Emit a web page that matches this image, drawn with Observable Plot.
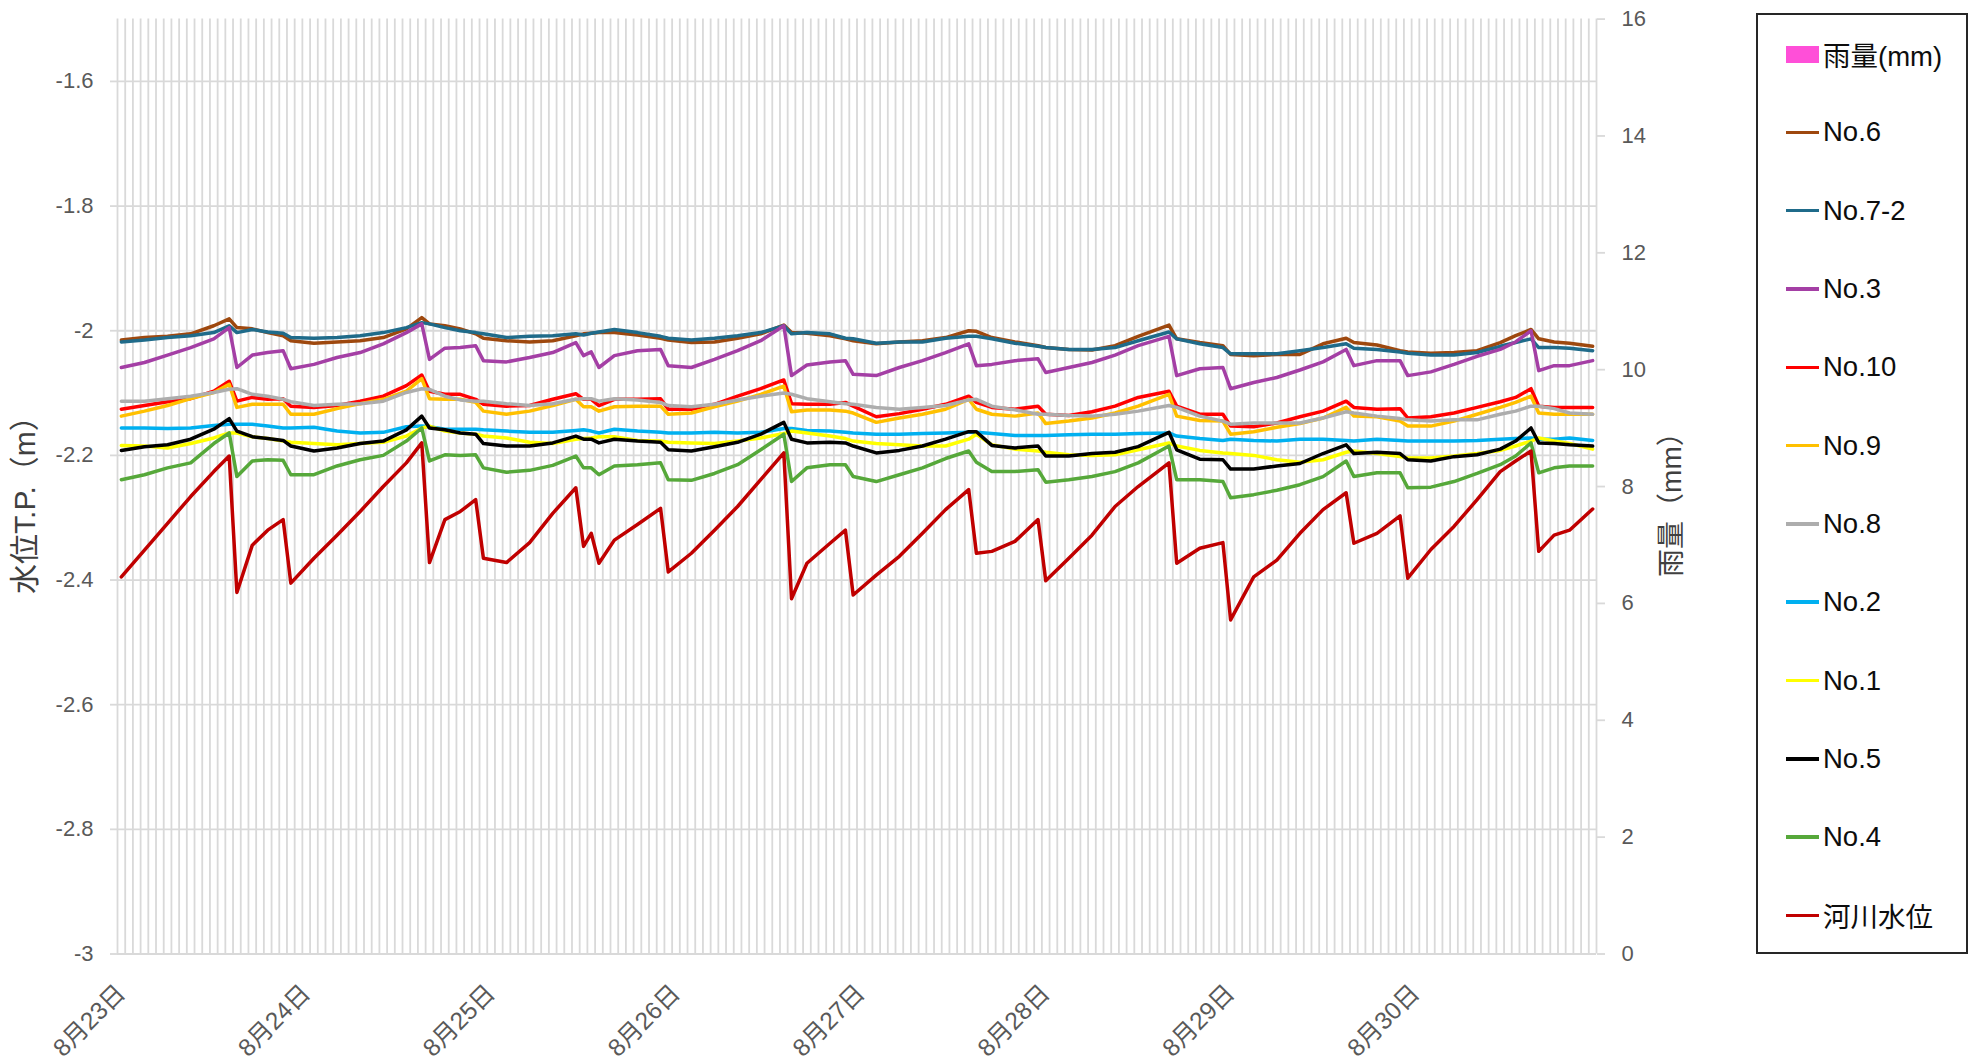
<!DOCTYPE html>
<html><head><meta charset="utf-8">
<script src="https://cdn.jsdelivr.net/npm/d3@7"></script>
<script src="https://cdn.jsdelivr.net/npm/@observablehq/plot@0.6"></script>
<style>
body{margin:0;background:#fff;}
#wrap{position:relative;width:1974px;height:1064px;font-family:"Liberation Sans","Noto Sans CJK JP",sans-serif;}
#legend{position:absolute;left:1756px;top:13px;width:212px;height:941px;border:2px solid #262626;box-sizing:border-box;}
.row{height:78.3px;display:flex;align-items:center;font-size:27.5px;color:#0d0d0d;white-space:nowrap;}
.sw{margin-left:28px;width:33px;height:3.5px;margin-right:4px;flex:none;}
.sw.box{height:17px;}
</style></head>
<body><div id="wrap"><div id="legend"></div></div>
<script>
// hours since 8/23 00:00
const hours = [0,3,6,9,12,14, 15,17,19,21, 22,25,28,31,34,37,39, 40,42,44,46, 47,50,53,56,59, 60,61,62,64,67,70, 71,74,77,80,83,86, 87,89,92,94, 95,98,101,104,107,110, 111,113,116,119, 120,123,126,129,132,136, 137,140,143, 144,147,150,153,156,159, 160,163,166, 167,170,173,176,179,181,183, 184,186,188,191];

const no6 = [-2.015,-2.011,-2.009,-2.005,-1.992,-1.981, -1.995,-1.997,-2.003,-2.008, -2.016,-2.020,-2.018,-2.016,-2.011,-1.997,-1.979, -1.989,-1.992,-1.997,-2.005, -2.012,-2.016,-2.018,-2.016,-2.008, -2.005,-2.004,-2.003,-2.003,-2.007,-2.012, -2.015,-2.019,-2.018,-2.012,-2.005,-1.991, -2.003,-2.004,-2.008,-2.013, -2.016,-2.021,-2.018,-2.016,-2.011,-2.000, -2.001,-2.011,-2.018,-2.024, -2.027,-2.030,-2.031,-2.024,-2.009,-1.991, -2.013,-2.019,-2.024, -2.038,-2.040,-2.038,-2.038,-2.021,-2.012, -2.019,-2.023,-2.032, -2.034,-2.036,-2.035,-2.032,-2.019,-2.008,-1.998, -2.013,-2.018,-2.020,-2.025];
const no7_2 = [-2.018,-2.015,-2.011,-2.008,-2.003,-1.992, -2.003,-1.998,-2.002,-2.004, -2.011,-2.012,-2.011,-2.008,-2.003,-1.995,-1.987, -1.989,-1.995,-2.000,-2.003, -2.005,-2.011,-2.009,-2.008,-2.005, -2.007,-2.004,-2.002,-1.998,-2.003,-2.009, -2.012,-2.015,-2.012,-2.008,-2.003,-1.992, -2.005,-2.003,-2.005,-2.012, -2.013,-2.020,-2.018,-2.018,-2.012,-2.009, -2.009,-2.013,-2.020,-2.025, -2.027,-2.030,-2.030,-2.027,-2.016,-2.002, -2.013,-2.021,-2.027, -2.037,-2.037,-2.037,-2.032,-2.027,-2.021, -2.028,-2.030,-2.034, -2.036,-2.039,-2.039,-2.035,-2.025,-2.019,-2.013, -2.027,-2.027,-2.028,-2.032];
const no3 = [-2.059,-2.051,-2.039,-2.027,-2.013,-1.995, -2.059,-2.039,-2.035,-2.032, -2.061,-2.054,-2.043,-2.035,-2.021,-2.003,-1.989, -2.046,-2.028,-2.027,-2.024, -2.048,-2.050,-2.043,-2.035,-2.019, -2.040,-2.034,-2.059,-2.040,-2.032,-2.030, -2.056,-2.059,-2.046,-2.032,-2.016,-1.992, -2.072,-2.055,-2.050,-2.048, -2.070,-2.072,-2.059,-2.048,-2.035,-2.021, -2.056,-2.054,-2.048,-2.045, -2.067,-2.059,-2.051,-2.039,-2.024,-2.009, -2.072,-2.061,-2.059, -2.093,-2.083,-2.075,-2.063,-2.050,-2.030, -2.056,-2.048,-2.048, -2.072,-2.066,-2.054,-2.041,-2.030,-2.018,-2.000, -2.064,-2.056,-2.056,-2.048];
const no10 = [-2.126,-2.120,-2.114,-2.109,-2.097,-2.081, -2.113,-2.107,-2.110,-2.109, -2.121,-2.123,-2.120,-2.113,-2.105,-2.088,-2.071, -2.097,-2.102,-2.102,-2.110, -2.118,-2.121,-2.120,-2.110,-2.101, -2.110,-2.110,-2.120,-2.110,-2.110,-2.109, -2.126,-2.126,-2.118,-2.105,-2.093,-2.079, -2.117,-2.118,-2.118,-2.115, -2.121,-2.138,-2.133,-2.126,-2.118,-2.105, -2.115,-2.123,-2.126,-2.121, -2.134,-2.136,-2.130,-2.121,-2.107,-2.097, -2.121,-2.134,-2.134, -2.153,-2.154,-2.148,-2.138,-2.129,-2.113, -2.123,-2.126,-2.125, -2.140,-2.138,-2.132,-2.123,-2.114,-2.107,-2.093, -2.121,-2.123,-2.123,-2.123];
const no9 = [-2.137,-2.129,-2.120,-2.109,-2.099,-2.086, -2.123,-2.118,-2.118,-2.118, -2.134,-2.134,-2.125,-2.117,-2.110,-2.097,-2.077, -2.109,-2.110,-2.110,-2.115, -2.129,-2.134,-2.129,-2.120,-2.110, -2.122,-2.122,-2.129,-2.122,-2.121,-2.121, -2.134,-2.132,-2.122,-2.113,-2.102,-2.089, -2.130,-2.127,-2.127,-2.129, -2.132,-2.147,-2.140,-2.134,-2.126,-2.110, -2.126,-2.134,-2.137,-2.132, -2.149,-2.145,-2.140,-2.132,-2.121,-2.102, -2.137,-2.144,-2.145, -2.166,-2.162,-2.155,-2.149,-2.140,-2.123, -2.137,-2.138,-2.145, -2.153,-2.153,-2.145,-2.134,-2.123,-2.115,-2.105, -2.132,-2.134,-2.134,-2.134];
const no8 = [-2.113,-2.113,-2.109,-2.105,-2.099,-2.094, -2.093,-2.102,-2.105,-2.110, -2.114,-2.120,-2.118,-2.117,-2.113,-2.099,-2.093, -2.094,-2.105,-2.111,-2.113, -2.113,-2.117,-2.120,-2.117,-2.110, -2.109,-2.109,-2.113,-2.109,-2.111,-2.115, -2.120,-2.122,-2.118,-2.111,-2.105,-2.100, -2.102,-2.109,-2.114,-2.117, -2.118,-2.123,-2.126,-2.123,-2.120,-2.111, -2.110,-2.121,-2.127,-2.134, -2.134,-2.136,-2.137,-2.134,-2.129,-2.120, -2.123,-2.137,-2.145, -2.150,-2.148,-2.148,-2.148,-2.140,-2.130, -2.132,-2.137,-2.141, -2.143,-2.145,-2.143,-2.143,-2.134,-2.129,-2.121, -2.121,-2.125,-2.132,-2.134];
const no2 = [-2.156,-2.156,-2.157,-2.156,-2.152,-2.150, -2.150,-2.150,-2.153,-2.156, -2.156,-2.155,-2.161,-2.164,-2.163,-2.154,-2.153, -2.154,-2.158,-2.158,-2.158, -2.159,-2.161,-2.163,-2.163,-2.160, -2.159,-2.161,-2.164,-2.158,-2.161,-2.163, -2.164,-2.164,-2.163,-2.164,-2.163,-2.157, -2.157,-2.160,-2.161,-2.163, -2.164,-2.166,-2.166,-2.165,-2.164,-2.163, -2.163,-2.165,-2.168,-2.168, -2.168,-2.167,-2.166,-2.166,-2.165,-2.164, -2.169,-2.173,-2.176, -2.174,-2.176,-2.177,-2.174,-2.174,-2.176, -2.177,-2.174,-2.176, -2.177,-2.177,-2.177,-2.176,-2.174,-2.173,-2.172, -2.174,-2.174,-2.172,-2.176];
const no1 = [-2.184,-2.185,-2.188,-2.181,-2.172,-2.164, -2.164,-2.170,-2.173,-2.177, -2.179,-2.181,-2.183,-2.181,-2.179,-2.169,-2.156, -2.153,-2.161,-2.164,-2.166, -2.169,-2.172,-2.179,-2.181,-2.174, -2.173,-2.172,-2.170,-2.170,-2.176,-2.177, -2.179,-2.180,-2.181,-2.177,-2.172,-2.165, -2.161,-2.164,-2.169,-2.173, -2.177,-2.181,-2.183,-2.185,-2.185,-2.174, -2.166,-2.183,-2.190,-2.193, -2.195,-2.199,-2.200,-2.199,-2.191,-2.180, -2.185,-2.192,-2.196, -2.197,-2.200,-2.207,-2.211,-2.207,-2.195, -2.193,-2.197,-2.202, -2.204,-2.204,-2.201,-2.197,-2.192,-2.185,-2.177, -2.172,-2.177,-2.181,-2.190];
const no5 = [-2.192,-2.186,-2.183,-2.174,-2.158,-2.141, -2.161,-2.170,-2.173,-2.176, -2.185,-2.193,-2.188,-2.181,-2.177,-2.159,-2.137, -2.156,-2.159,-2.164,-2.166, -2.181,-2.185,-2.185,-2.180,-2.169, -2.174,-2.174,-2.180,-2.174,-2.177,-2.179, -2.191,-2.193,-2.186,-2.179,-2.166,-2.147, -2.174,-2.180,-2.179,-2.180, -2.185,-2.196,-2.192,-2.185,-2.174,-2.162, -2.162,-2.184,-2.188,-2.185, -2.201,-2.201,-2.197,-2.195,-2.186,-2.163, -2.191,-2.206,-2.207, -2.222,-2.222,-2.217,-2.213,-2.197,-2.183, -2.197,-2.195,-2.197, -2.207,-2.209,-2.202,-2.199,-2.190,-2.177,-2.156, -2.180,-2.181,-2.183,-2.185];
const no4 = [-2.239,-2.231,-2.220,-2.212,-2.181,-2.164, -2.234,-2.209,-2.207,-2.208, -2.231,-2.231,-2.217,-2.207,-2.200,-2.177,-2.156, -2.209,-2.199,-2.200,-2.199, -2.220,-2.227,-2.224,-2.216,-2.201, -2.220,-2.220,-2.231,-2.217,-2.215,-2.212, -2.239,-2.240,-2.229,-2.215,-2.191,-2.166, -2.242,-2.220,-2.215,-2.215, -2.234,-2.242,-2.231,-2.220,-2.205,-2.193, -2.211,-2.226,-2.226,-2.223, -2.243,-2.239,-2.234,-2.226,-2.212,-2.185, -2.239,-2.239,-2.242, -2.268,-2.263,-2.256,-2.247,-2.234,-2.209, -2.234,-2.228,-2.228, -2.252,-2.251,-2.242,-2.229,-2.215,-2.201,-2.180, -2.228,-2.220,-2.217,-2.217];
const river = [-2.395,-2.352,-2.309,-2.266,-2.226,-2.201, -2.420,-2.344,-2.320,-2.303, -2.405,-2.365,-2.328,-2.290,-2.250,-2.212,-2.180, -2.372,-2.303,-2.290,-2.271, -2.365,-2.372,-2.340,-2.293,-2.252, -2.346,-2.325,-2.373,-2.336,-2.311,-2.285, -2.387,-2.357,-2.320,-2.282,-2.239,-2.196, -2.430,-2.373,-2.341,-2.320, -2.424,-2.392,-2.362,-2.325,-2.287,-2.255, -2.357,-2.354,-2.338,-2.303, -2.401,-2.365,-2.328,-2.282,-2.250,-2.212, -2.373,-2.349,-2.340, -2.464,-2.395,-2.368,-2.325,-2.287,-2.260, -2.341,-2.325,-2.297, -2.397,-2.351,-2.314,-2.271,-2.226,-2.209,-2.193, -2.354,-2.328,-2.320,-2.286];

// rainfall (mm): no rain recorded in the period
const rainDayHours = [0,24,48,72,96,120,144,168];
const rainMm = [0,0,0,0,0,0,0,0];

const seriesNames = ["No.6","No.7-2","No.3","No.10","No.9","No.8","No.2","No.1","No.5","No.4","河川水位"];
const seriesValues = [no6,no7_2,no3,no10,no9,no8,no2,no1,no5,no4,river];
const seriesColors = ["#9E480E","#1F6B8A","#A43FA5","#FF0000","#FFC000","#ADADAD","#00B0F0","#FFFF00","#000000","#56A83A","#C00000"];
const rainName = "雨量(mm)";
const rainColor = "#FF4FD8";

const dayLabels = ["8月23日","8月24日","8月25日","8月26日","8月27日","8月28日","8月29日","8月30日"];
const dayHours = [0,24,48,72,96,120,144,168];
const leftTicks = [-3,-2.8,-2.6,-2.4,-2.2,-2,-1.8,-1.6];
const rainTicks = [0,2,4,6,8,10,12,14,16];

const yMin = -3, yMax = -1.5, rainMax = 16;
const rainToY = r => yMin + r * (yMax - yMin) / rainMax;
const hourEdges = d3.range(193).map(i => i - 0.5);

const data = [];
seriesNames.forEach((name, s) => hours.forEach((h, i) => data.push({name, h, v: seriesValues[s][i]})));
const rainData = rainDayHours.map((h, i) => ({h, r: rainMm[i]}));

const grid = "#d9d9d9";
const font = "'Liberation Sans','Noto Sans CJK JP',sans-serif";

const chart = Plot.plot({
  width: 1974, height: 1064,
  marginLeft: 117, marginRight: 378, marginTop: 18.6, marginBottom: 110.5,
  style: {fontFamily: font, background: "transparent", overflow: "visible"},
  x: {domain: [-0.5, 191.5]},
  y: {domain: [yMin, yMax]},
  color: {domain: seriesNames, range: seriesColors},
  marks: [
    Plot.ruleX(hourEdges, {stroke: grid, strokeWidth: 1.8, y1: yMin, y2: yMax}),
    Plot.gridY(leftTicks, {stroke: grid, strokeOpacity: 1, strokeWidth: 1.8}),
    // left axis
    Plot.axisY(leftTicks, {anchor: "left", label: null, tickSize: 7, tickFormat: () => "", color: grid, strokeWidth: 1.8}),
    Plot.axisY(leftTicks, {anchor: "left", label: null, tickSize: 0, tickPadding: 24, tickFormat: d => String(d), fontSize: 22, color: "#595959"}),
    // right axis (rainfall)
    Plot.axisY(rainTicks.map(rainToY), {anchor: "right", label: null, tickSize: 8, tickFormat: () => "", color: grid, strokeWidth: 1.8}),
    Plot.axisY(rainTicks.map(rainToY), {anchor: "right", label: null, tickSize: 0, tickPadding: 25, tickFormat: d => String(Math.round((d - yMin) * rainMax / (yMax - yMin))), fontSize: 22, color: "#595959"}),
    // x axis
    Plot.axisX(dayHours, {anchor: "bottom", label: null, tickSize: 0, tickPadding: 35, tickRotate: -45, tickFormat: d => dayLabels[dayHours.indexOf(d)], fontSize: 24.5, color: "#595959"}),
    Plot.text(["水位T.P.（m）"], {frameAnchor: "left", textAnchor: "middle", dx: -92, dy: 11, rotate: -90, fontSize: 30, fill: "#404040"}),
    Plot.text(["雨量（mm）"], {frameAnchor: "right", textAnchor: "middle", dx: 76, dy: 11, rotate: -90, fontSize: 28, fill: "#404040"}),
    // rainfall bars
    Plot.rectY(rainData, {x1: d => d.h - 0.4, x2: d => d.h + 0.4, y1: yMin, y2: d => rainToY(d.r), fill: rainColor}),
    // water levels
    Plot.line(data, {x: "h", y: "v", z: "name", stroke: "name", strokeWidth: 3.5, strokeLinejoin: "round", strokeLinecap: "round"})
  ]
});
const wrap = document.getElementById("wrap");
wrap.insertBefore(chart, wrap.firstChild);

// legend
const legend = document.getElementById("legend");
const addRow = (name, color, box) => {
  const row = document.createElement("div");
  row.className = "row";
  const sw = document.createElement("span");
  sw.className = box ? "sw box" : "sw";
  sw.style.background = color;
  const t = document.createElement("span");
  t.textContent = name;
  row.appendChild(sw); row.appendChild(t);
  legend.appendChild(row);
};
addRow(rainName, rainColor, true);
seriesNames.forEach((n, i) => addRow(n, seriesColors[i], false));
</script>
</body></html>
